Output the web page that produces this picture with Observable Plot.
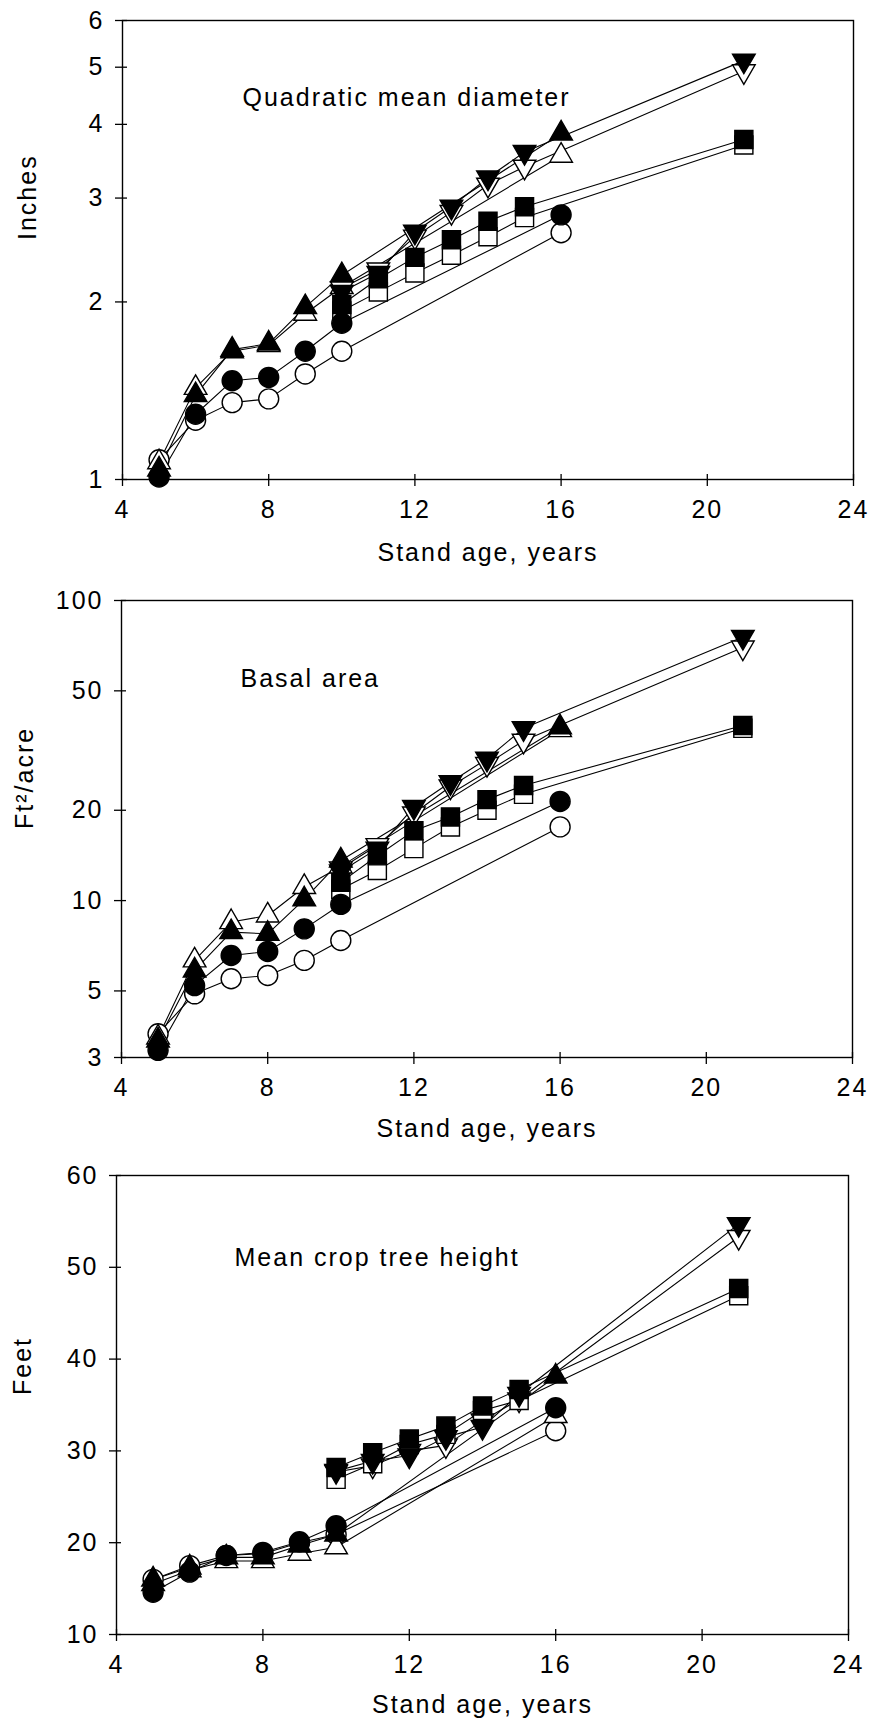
<!DOCTYPE html>
<html><head><meta charset="utf-8">
<script src="https://cdn.jsdelivr.net/npm/d3@7"></script>
<script src="https://cdn.jsdelivr.net/npm/@observablehq/plot@0.6"></script>
<style>
body{margin:0;background:#fff;}
#wrap{position:relative;width:874px;height:1727px;overflow:hidden;background:#fff;}
.panel{position:absolute;left:0;}
</style></head><body><div id="wrap"></div>
<script>
// ---- data ----
const agesA = [5, 6, 7, 8, 9, 10, 16];
const agesB = [10, 11, 12, 13, 14, 15, 21];
const xTicks = [4, 8, 12, 16, 20, 24];

// Quadratic mean diameter (inches)
const qmdTicks = [1, 2, 3, 4, 5, 6];
const qmdOpenCircle   = [1.08, 1.26, 1.35, 1.37, 1.51, 1.65, 2.62];
const qmdFilledCircle = [1.01, 1.29, 1.47, 1.49, 1.65, 1.84, 2.81];
const qmdOpenTriUp    = [1.07, 1.43, 1.65, 1.69, 1.91, 2.12, 3.54];
const qmdFilledTriUp  = [1.04, 1.39, 1.66, 1.70, 1.96, 2.22, 3.86];
const qmdOpenTriDown  = [2.11, 2.27, 2.58, 2.84, 3.16, 3.39, 4.92];
const qmdFilledTriDown= [2.08, 2.24, 2.63, 2.90, 3.25, 3.59, 5.13];
const qmdOpenSquare   = [1.93, 2.08, 2.24, 2.40, 2.58, 2.78, 3.69];
const qmdFilledSquare = [1.98, 2.19, 2.38, 2.55, 2.74, 2.90, 3.77];

// Basal area (ft2/acre)
const baTicks = [3, 5, 10, 20, 50, 100];
const baOpenCircle   = [3.60, 4.89, 5.49, 5.63, 6.32, 7.36, 17.6];
const baFilledCircle = [3.17, 5.21, 6.56, 6.77, 8.05, 9.71, 21.4];
const baOpenTriUp    = [3.50, 6.32, 8.48, 8.92, 11.1, 13.0, 37.0];
const baFilledTriUp  = [3.42, 5.85, 7.85, 7.75, 10.1, 13.6, 37.8];
const baOpenTriDown  = [12.8, 15.3, 19.5, 24.0, 28.5, 34.1, 69.7];
const baFilledTriDown= [12.5, 14.9, 20.5, 24.8, 29.7, 37.5, 75.6];
const baOpenSquare   = [10.9, 12.6, 14.9, 17.6, 20.0, 22.6, 37.5];
const baFilledSquare = [11.5, 14.1, 17.1, 19.0, 21.7, 24.2, 38.3];

// Mean crop tree height (feet)
const htTicks = [10, 20, 30, 40, 50, 60];
const htOpenCircle   = [16.0, 17.5, 18.6, 18.8, 20.0, 20.9, 32.2];
const htFilledCircle = [14.6, 16.8, 18.6, 18.95, 20.1, 21.85, 34.7];
const htOpenTriUp    = [15.5, 17.0, 18.0, 18.0, 18.8, 19.5, 33.8];
const htFilledTriUp  = [16.0, 17.3, 18.4, 18.4, 19.7, 20.9, 38.1];
const htOpenTriDown  = [27.7, 28.4, 30.0, 30.6, 33.3, 35.6, 53.3];
const htFilledTriDown= [27.8, 28.9, 29.5, 31.5, 32.6, 36.2, 54.7];
const htOpenSquare   = [26.9, 28.6, 30.7, 31.8, 34.4, 35.5, 46.9];
const htFilledSquare = [28.2, 29.8, 31.3, 32.7, 34.9, 36.7, 47.7];

const xTitle = "Stand age, years";

// ---- styles ----
const FONT = "'Liberation Sans', Arial, sans-serif";
const markerStyle = {
  oc: {symbol: "circle", fill: "white", r: 10, rotate: 0},
  ot: {symbol: "triangle", fill: "white", r: 8.4, rotate: 0},
  od: {symbol: "triangle", fill: "white", r: 8.4, rotate: 180},
  os: {symbol: "square", fill: "white", r: 10.2, rotate: 0},
  fc: {symbol: "circle", fill: "black", r: 10, rotate: 0},
  ft: {symbol: "triangle", fill: "black", r: 8.4, rotate: 0},
  fd: {symbol: "triangle", fill: "black", r: 8.4, rotate: 180},
  fs: {symbol: "square", fill: "black", r: 10.2, rotate: 0}
};
const drawOrder = ["oc", "ot", "od", "os", "fc", "ft", "fd", "fs"];

function buildSeries(oc, fc, ot, ft, od, fd, os, fs) {
  return [
    {key: "oc", ages: agesA, values: oc},
    {key: "fc", ages: agesA, values: fc},
    {key: "ot", ages: agesA, values: ot},
    {key: "ft", ages: agesA, values: ft},
    {key: "od", ages: agesB, values: od},
    {key: "fd", ages: agesB, values: fd},
    {key: "os", ages: agesB, values: os},
    {key: "fs", ages: agesB, values: fs}
  ];
}

function makePanel(c) {
  const rows = c.series.flatMap(s => s.values.map((v, i) => ({age: s.ages[i], value: v, key: s.key})));
  const marks = [
    Plot.line(rows, {x: "age", y: "value", z: "key", stroke: "#000", strokeWidth: 1.1}),
    ...drawOrder.map(k => {
      const st = markerStyle[k];
      return Plot.dot(rows.filter(d => d.key === k), {
        x: "age", y: "value", symbol: st.symbol, r: st.r, fill: st.fill,
        stroke: "#000", strokeWidth: 1.4, rotate: st.rotate
      });
    }),
    Plot.frame({stroke: "#000", strokeWidth: 1.4}),
    Plot.axisX({ticks: xTicks, tickSize: 7, tickPadding: 14, label: null, tickFormat: d => String(d), strokeWidth: 1.3}),
    Plot.axisX({ticks: xTicks, tickSize: -5, tickFormat: () => "", label: null, strokeWidth: 1.3}),
    Plot.axisY({ticks: c.yTicks, tickSize: 7, tickPadding: 11, label: null, tickFormat: d => String(d), strokeWidth: 1.3}),
    Plot.axisY({ticks: c.yTicks, tickSize: -5, tickFormat: () => "", label: null, strokeWidth: 1.3}),
    Plot.text([c.title], {frameAnchor: "top-left", dx: c.titleDx, dy: c.titleDy, textAnchor: "start", text: d => d}),
    Plot.text([xTitle], {frameAnchor: "bottom", dy: c.xTitleDy, text: d => d}),
    Plot.text([c.yTitle], {frameAnchor: "left", dx: c.yTitleDx, dy: c.yTitleDy, rotate: -90, text: d => d})
  ];
  const svg = Plot.plot({
    width: 874, height: c.height,
    marginTop: c.mt, marginBottom: c.mb, marginLeft: c.ml, marginRight: c.mr,
    x: {domain: [4, 24]},
    y: {type: c.yType, domain: c.yDomain},
    style: {fontFamily: FONT, fontSize: "25px", color: "#000", background: "white", letterSpacing: "2px", overflow: "visible"},
    marks
  });
  const div = document.createElement("div");
  div.className = "panel";
  div.style.top = c.top + "px";
  div.appendChild(svg);
  document.getElementById("wrap").appendChild(div);
}

makePanel({
  top: 0, height: 580, mt: 20, mb: 101, ml: 122, mr: 21,
  yType: "log", yDomain: [1, 6], yTicks: qmdTicks,
  series: buildSeries(qmdOpenCircle, qmdFilledCircle, qmdOpenTriUp, qmdFilledTriUp, qmdOpenTriDown, qmdFilledTriDown, qmdOpenSquare, qmdFilledSquare),
  title: "Quadratic mean diameter", titleDx: 120, titleDy: 68,
  yTitle: "Inches", yTitleDx: -95, yTitleDy: -10, xTitleDy: 81
});
makePanel({
  top: 580, height: 570, mt: 20, mb: 93, ml: 121, mr: 22,
  yType: "log", yDomain: [3, 100], yTicks: baTicks,
  series: buildSeries(baOpenCircle, baFilledCircle, baOpenTriUp, baFilledTriUp, baOpenTriDown, baFilledTriDown, baOpenSquare, baFilledSquare),
  title: "Basal area", titleDx: 119, titleDy: 69,
  yTitle: "Ft²/acre", yTitleDx: -97, yTitleDy: 0, xTitleDy: 79
});
makePanel({
  top: 1150, height: 577, mt: 25, mb: 93, ml: 116, mr: 26,
  yType: "linear", yDomain: [10, 60], yTicks: htTicks,
  series: buildSeries(htOpenCircle, htFilledCircle, htOpenTriUp, htFilledTriUp, htOpenTriDown, htFilledTriDown, htOpenSquare, htFilledSquare),
  title: "Mean crop tree height", titleDx: 118, titleDy: 73,
  yTitle: "Feet", yTitleDx: -94, yTitleDy: -10, xTitleDy: 78
});
</script></body></html>
